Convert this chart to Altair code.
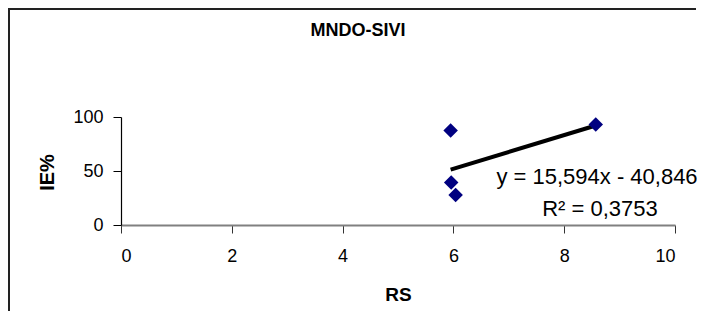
import altair as alt
import pandas as pd

# ---- data ----
rs_values = [5.95, 5.96, 6.04, 8.57]
ie_values = [87.5, 39.4, 27.7, 93.0]

x_ticks = [0, 2, 4, 6, 8, 10]
y_ticks = [0, 50, 100]

chart_title = "MNDO-SIVI"
x_title = "RS"
y_title = "IE%"
eq_text = "y = 15,594x - 40,846"
r2_text = "R² = 0,3753"

df = pd.DataFrame({"RS": rs_values, "IE": ie_values})

FONT = "Liberation Sans, Arial, Helvetica, sans-serif"
W, H = 554, 108

x_scale = alt.Scale(domain=[0, 10], nice=False, zero=False)
y_scale = alt.Scale(domain=[0, 100], nice=False)

x_axis = alt.Axis(
    values=x_ticks, title=x_title, grid=False,
    labelFont=FONT, labelFontSize=18, labelColor="black",
    labelBaseline="middle", labelPadding=23,
    tickSize=8, tickColor="#333333", domainColor="#808080", domainWidth=2,
    titleFont=FONT, titleFontSize=19, titleFontWeight="bold", titleColor="black",
    titleBaseline="middle", titleY=69,
)
y_axis = alt.Axis(
    values=y_ticks, title=y_title, grid=False,
    labelFont=FONT, labelFontSize=18, labelColor="black",
    labelPadding=10, tickSize=8, tickColor="black",
    domainColor="black", domainWidth=1.2,
    titleFont=FONT, titleFontSize=20, titleFontWeight="bold", titleColor="black",
    titleAngle=-90, titleBaseline="middle", titleX=-74, titleY=55, titleAlign="center",
)

base = alt.Chart(df)

points = base.mark_point(
    shape="diamond", filled=True, color="#000080", size=210, opacity=1
).encode(
    x=alt.X("RS:Q", scale=x_scale, axis=x_axis),
    y=alt.Y("IE:Q", scale=y_scale, axis=y_axis),
)

trend = base.transform_regression("RS", "IE").mark_line(
    color="black", strokeWidth=4
).encode(
    x=alt.X("RS:Q", scale=x_scale),
    y=alt.Y("IE:Q", scale=y_scale),
)

one_row = alt.Data(values=[{}])

frame_top = alt.Chart(one_row).mark_rule(
    stroke="#222222", strokeWidth=2
).encode(x=alt.value(-112), x2=alt.value(575), y=alt.value(-108))

frame_left = alt.Chart(one_row).mark_rule(
    stroke="#222222", strokeWidth=2
).encode(x=alt.value(-112), y=alt.value(-109), y2=alt.value(210))

eq = alt.Chart(one_row).mark_text(
    font=FONT, fontSize=22, color="black", align="center", baseline="middle"
).encode(x=alt.value(476), y=alt.value(60), text=alt.value(eq_text))

r2 = alt.Chart(one_row).mark_text(
    font=FONT, fontSize=22, color="black", align="center", baseline="middle"
).encode(x=alt.value(479), y=alt.value(92), text=alt.value(r2_text))

title = alt.Chart(one_row).mark_text(
    font=FONT, fontSize=18, fontWeight="bold", color="black",
    align="center", baseline="middle"
).encode(x=alt.value(237), y=alt.value(-86), text=alt.value(chart_title))

chart = alt.layer(frame_top, frame_left, trend, points, eq, r2, title).properties(
    width=W, height=H,
    autosize=alt.AutoSizeParams(type="none"),
    padding={"left": 113, "top": 109, "right": 22, "bottom": 86},
    background="white",
).configure_view(stroke=None)

chart.save("out.html", embed_options={"renderer": "svg", "actions": False})
